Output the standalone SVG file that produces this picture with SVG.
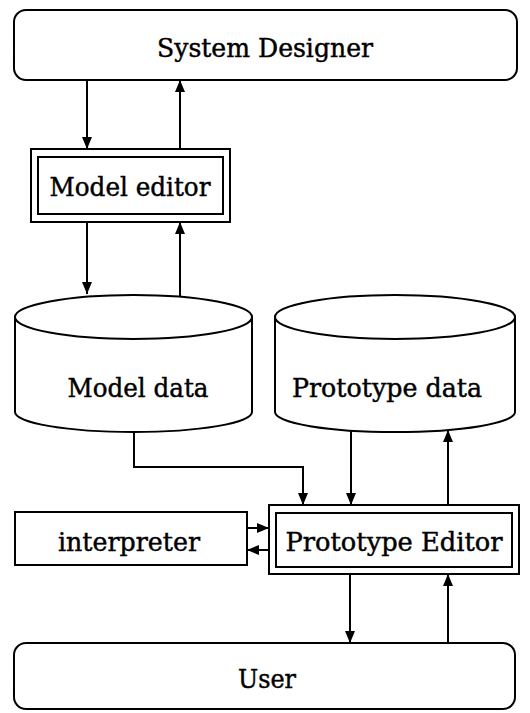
<svg xmlns="http://www.w3.org/2000/svg" width="530" height="713" viewBox="0 0 530 713">
<style>
.box{fill:#fff;stroke:#000;stroke-width:2}
.lbl{font-family:"DejaVu Serif","Liberation Serif",serif;font-size:25.5px;fill:#000;stroke:#000;stroke-width:0.45;text-anchor:middle}
.c{fill:none;stroke:#000;stroke-width:2}
</style>
<defs>
<marker id="ah" markerUnits="userSpaceOnUse" markerWidth="12" markerHeight="10" refX="12" refY="5" orient="auto">
<path d="M0,0 L12,5 L0,10 z" fill="#000"/>
</marker>
</defs>
<rect width="530" height="713" fill="#fff"/>
<g id="connectors">
<line class="c" x1="87" y1="80" x2="87" y2="149" marker-end="url(#ah)"/>
<line class="c" x1="180" y1="149" x2="180" y2="80" marker-end="url(#ah)"/>
<line class="c" x1="87" y1="222" x2="87" y2="294" marker-end="url(#ah)"/>
<line class="c" x1="180" y1="297" x2="180" y2="222" marker-end="url(#ah)"/>
<path class="c" d="M134,432 V467 H303 V505" marker-end="url(#ah)"/>
<line class="c" x1="351" y1="431" x2="351" y2="505" marker-end="url(#ah)"/>
<line class="c" x1="448" y1="505" x2="448" y2="430" marker-end="url(#ah)"/>
<line class="c" x1="247" y1="528" x2="269" y2="528" marker-end="url(#ah)"/>
<line class="c" x1="269" y1="550" x2="247" y2="550" marker-end="url(#ah)"/>
<line class="c" x1="350" y1="574" x2="350" y2="643" marker-end="url(#ah)"/>
<line class="c" x1="448" y1="643" x2="448" y2="574" marker-end="url(#ah)"/>
</g>
<g id="system-designer">
<rect class="box" x="14" y="10" width="503" height="70" rx="12"/>
<text class="lbl" x="265" y="57" font-size="24.5" textLength="216" lengthAdjust="spacingAndGlyphs">System Designer</text>
</g>
<g id="model-editor">
<rect class="box" x="31" y="149" width="199" height="73"/>
<rect class="box" x="38" y="157" width="185" height="57"/>
<text class="lbl" x="130" y="196" textLength="161" lengthAdjust="spacingAndGlyphs">Model editor</text>
</g>
<g id="model-data">
<path class="box" d="M15,317 V412 A118.5,20 0 0 0 252,412 V317"/>
<ellipse class="box" cx="133.5" cy="317" rx="118.5" ry="22"/>
<text class="lbl" x="138" y="397" textLength="141" lengthAdjust="spacingAndGlyphs">Model data</text>
</g>
<g id="prototype-data">
<path class="box" d="M275,317 V412 A120,20 0 0 0 515,412 V317"/>
<ellipse class="box" cx="395" cy="317" rx="120" ry="22"/>
<text class="lbl" x="387" y="397" textLength="190" lengthAdjust="spacingAndGlyphs">Prototype data</text>
</g>
<g id="interpreter">
<rect class="box" x="15" y="512" width="232" height="53"/>
<text class="lbl" x="129" y="551" textLength="142" lengthAdjust="spacingAndGlyphs">interpreter</text>
</g>
<g id="prototype-editor">
<rect class="box" x="269" y="505" width="250" height="69"/>
<rect class="box" x="276" y="513" width="236" height="54"/>
<text class="lbl" x="394" y="551" textLength="217" lengthAdjust="spacingAndGlyphs">Prototype Editor</text>
</g>
<g id="user">
<rect class="box" x="14" y="643" width="501" height="66" rx="12"/>
<text class="lbl" x="267" y="688" textLength="58" lengthAdjust="spacingAndGlyphs">User</text>
</g>
</svg>
